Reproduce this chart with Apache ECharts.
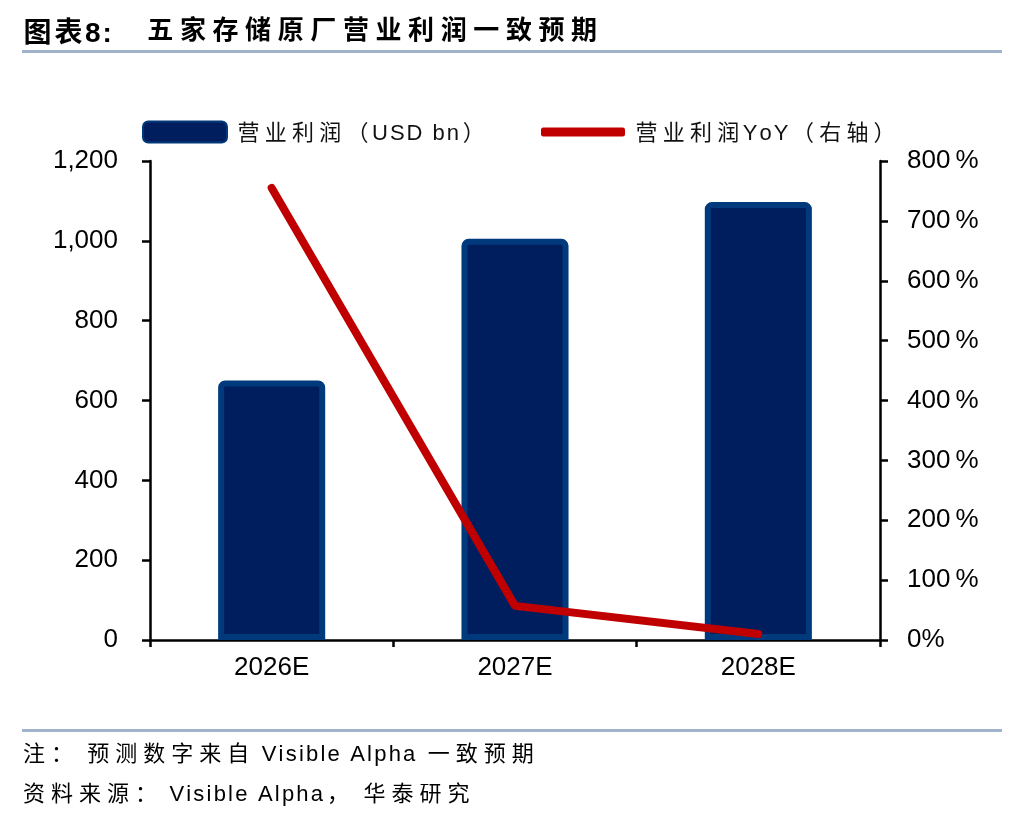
<!DOCTYPE html>
<html>
<head>
<meta charset="utf-8">
<script src="https://cdn.jsdelivr.net/npm/echarts@6/dist/echarts.min.js"></script>
<style>
  html, body { margin: 0; padding: 0; background: #fff; }
  #chart { width: 1024px; height: 818px; }
</style>
</head>
<body>
<div id="chart"></div>
<script>
// Data
const categories = ['2026E', '2027E', '2028E'];
const profit = [650, 1005, 1097];        // 营业利润 USD bn
const profitYoY = [755, 57, 10];         // YoY %, right axis
const leftTicks = { min: 0, max: 1200, interval: 200 };
const rightTicks = { min: 0, max: 800, interval: 100 };

const NAME_BAR = '营业利润（USD bn）';
const NAME_LINE = '营业利润YoY（右轴）';
const TITLE = '图表8:';
const SUBTITLE = '五家存储原厂营业利润一致预期';
const NOTE = '注： 预测数字来自 Visible Alpha 一致预期';
const SOURCE = '资料来源： Visible Alpha， 华泰研究';

const FONT = '"Liberation Sans", Arial, "Noto Sans CJK SC", sans-serif';
const CJK = '"Noto Sans CJK SC", "Liberation Sans", sans-serif';

// the reference text is letter-spaced (CJK much more than latin); zrender has
// no letterSpacing, so every character becomes a padded rich fragment.
// latin gets a little top padding so it sits on the CJK baseline.
const isCjk = (ch) => ch.charCodeAt(0) >= 0x2e80;
const spaced = (s) => s.split('').map((ch) => (isCjk(ch) ? '{c|' : '{l|') + ch + '}').join('');
const richMix = (o) => ({
  c: { fontSize: o.size, lineHeight: o.size + 6, padding: [0, o.cPad], color: o.color, fontWeight: o.weight || 'normal', fontFamily: CJK },
  l: { fontSize: o.size, lineHeight: o.size + 6, padding: [o.drop || 4, o.lPad, 0, o.lPad], color: o.color, fontWeight: o.weight || 'normal', fontFamily: FONT }
});

const legendRich = richMix({ size: 22, cPad: 2.6, lPad: 1.0, color: '#111' });
const noteRich = richMix({ size: 22, cPad: 3.0, lPad: 1.1, color: '#7f7f7f' });

const chart = echarts.init(document.getElementById('chart'), null, { renderer: 'canvas' });

chart.setOption({
  animation: false,
  backgroundColor: '#fff',
  textStyle: { fontFamily: FONT },
  grid: { left: 150, right: 144, top: 161, bottom: 178 },
  legend: [
    {
      data: [NAME_BAR], left: 137, top: 114, icon: 'roundRect',
      itemWidth: 84, itemHeight: 21, itemGap: 0,
      formatter: (n) => spaced(n),
      textStyle: { fontSize: 22, color: '#111', padding: [0, 0, 0, 3], rich: legendRich }
    },
    {
      data: [NAME_LINE], left: 536, top: 114, icon: 'roundRect',
      itemWidth: 84, itemHeight: 9, itemGap: 0,
      formatter: (n) => spaced(n),
      textStyle: { fontSize: 22, color: '#111', padding: [0, 0, 0, 3], rich: legendRich }
    }
  ],
  xAxis: {
    type: 'category', data: categories,
    axisLine: { lineStyle: { color: '#000', width: 2.5 } },
    axisTick: { show: true, length: 7, lineStyle: { color: '#000', width: 2.5 } },
    axisLabel: { fontSize: 26, color: '#000', margin: 15 }
  },
  yAxis: [
    {
      type: 'value', position: 'left', ...leftTicks,
      axisLine: { show: true, lineStyle: { color: '#000', width: 2.5 } },
      axisTick: { show: true, length: 8, lineStyle: { color: '#000', width: 2.5 } },
      splitLine: { show: false },
      axisLabel: {
        fontSize: 26, color: '#000', margin: 32,
        formatter: (v) => v.toLocaleString('en-US')
      }
    },
    {
      type: 'value', position: 'right', ...rightTicks,
      axisLine: { show: true, lineStyle: { color: '#000', width: 2.5 } },
      axisTick: { show: true, length: 8, lineStyle: { color: '#000', width: 2.5 } },
      splitLine: { show: false },
      axisLabel: {
        fontSize: 26, color: '#000', margin: 27,
        formatter: (v) => (v === 0 ? '0%' : v + '\u2009%')
      }
    }
  ],
  series: [
    {
      name: NAME_BAR, type: 'bar', data: profit, yAxisIndex: 0,
      barWidth: '44%',
      itemStyle: { color: '#001e5e', borderColor: '#003a7d', borderWidth: 6, borderRadius: [4, 4, 0, 0] }
    },
    {
      name: NAME_LINE, type: 'line', data: profitYoY, yAxisIndex: 1,
      symbol: 'none', z: 5,
      lineStyle: { color: '#c00000', width: 8, cap: 'round' },
      itemStyle: { color: '#c00000' }
    }
  ],
  graphic: [
    {
      type: 'text', left: 22, top: 15,
      style: { text: spaced(TITLE), rich: richMix({ size: 28, cPad: 1.5, lPad: 1, drop: 5, color: '#000', weight: 'bold' }) }
    },
    {
      type: 'text', left: 144, top: 16,
      style: { text: spaced(SUBTITLE), rich: richMix({ size: 26, cPad: 3.3, lPad: 0, color: '#000', weight: 'bold' }) }
    },
    { type: 'rect', shape: { x: 22, y: 50, width: 980, height: 3 }, style: { fill: '#9fb4ca' } },
    { type: 'rect', shape: { x: 22, y: 729, width: 980, height: 3 }, style: { fill: '#9fb4ca' } },
    {
      type: 'text', left: 20, top: 740,
      style: { text: spaced(NOTE), rich: noteRich }
    },
    {
      type: 'text', left: 20, top: 780,
      style: { text: spaced(SOURCE), rich: noteRich }
    }
  ]
});
</script>
</body>
</html>
